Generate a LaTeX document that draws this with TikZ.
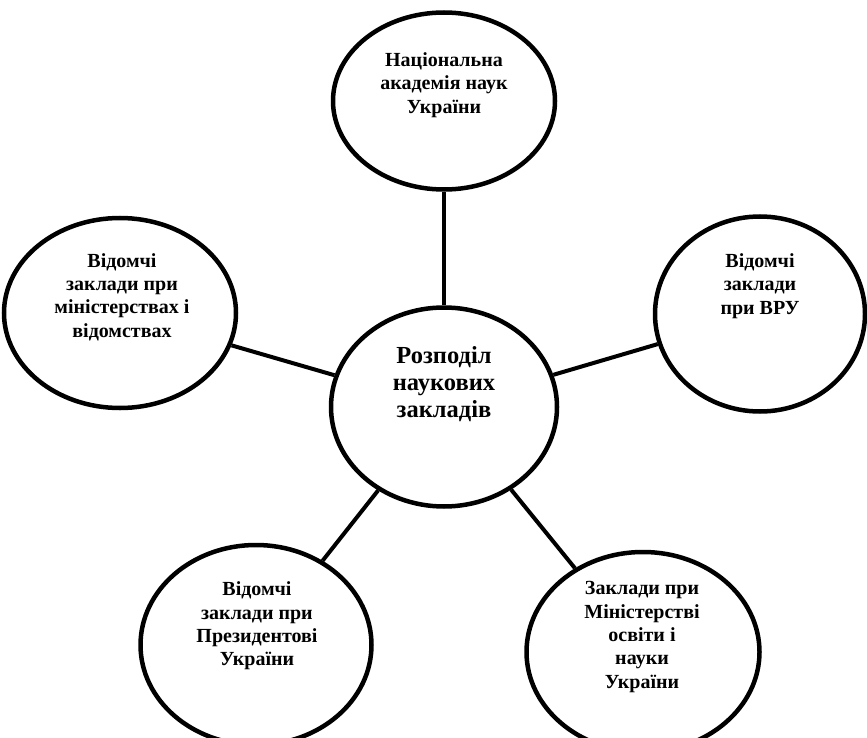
\documentclass[tikz,border=0pt]{standalone}
\usepackage{fontspec}
\setmainfont{Liberation Serif}
\usetikzlibrary{shapes.geometric}
\begin{document}
\begin{tikzpicture}[x=1pt,y=-1pt,
  oval/.style={ellipse,draw,line width=4.5pt,inner sep=0pt},
  lbl/.style={align=center,font=\bfseries\fontsize{20}{23.3}\selectfont,inner sep=0pt},
  biglbl/.style={align=center,font=\bfseries\fontsize{24.5}{27}\selectfont,inner sep=0pt},
  conn/.style={line width=4pt}]
\useasboundingbox (0,0) rectangle (867,738);
\clip (0,0) rectangle (867,738);
\node[oval,minimum width=222pt,minimum height=177pt] (top) at (444,101) {};
\node[oval,minimum width=226pt,minimum height=199pt] (ctr) at (444,407) {};
\node[oval,minimum width=210pt,minimum height=195pt] (rgt) at (760,314) {};
\node[oval,minimum width=232pt,minimum height=190pt] (lft) at (120,313) {};
\node[oval,minimum width=231pt,minimum height=200pt] (bl) at (256,645) {};
\node[oval,minimum width=233pt,minimum height=200pt] (br) at (643,652) {};
\draw[conn] (ctr) -- (top);
\draw[conn] (ctr) -- (lft);
\draw[conn] (ctr) -- (rgt);
\draw[conn] (ctr) -- (bl);
\draw[conn] (ctr) -- (br);
\node[lbl] (ttop) at (444,85) {Національна\\академія наук\\України};
\node[biglbl] (tctr) at (444,384) {Розподіл\\наукових\\закладів};
\node[lbl] (trgt) at (760,286) {Відомчі\\заклади\\при ВРУ};
\node[lbl] (tlft) at (122,297) {Відомчі\\заклади при\\міністерствах і\\відомствах};
\node[lbl] (tbl) at (257,626) {Відомчі\\заклади при\\Президентові\\України};
\node[lbl] (tbr) at (642,637) {Заклади при\\Міністерстві\\освіти і\\науки\\України};
\end{tikzpicture}
\end{document}
